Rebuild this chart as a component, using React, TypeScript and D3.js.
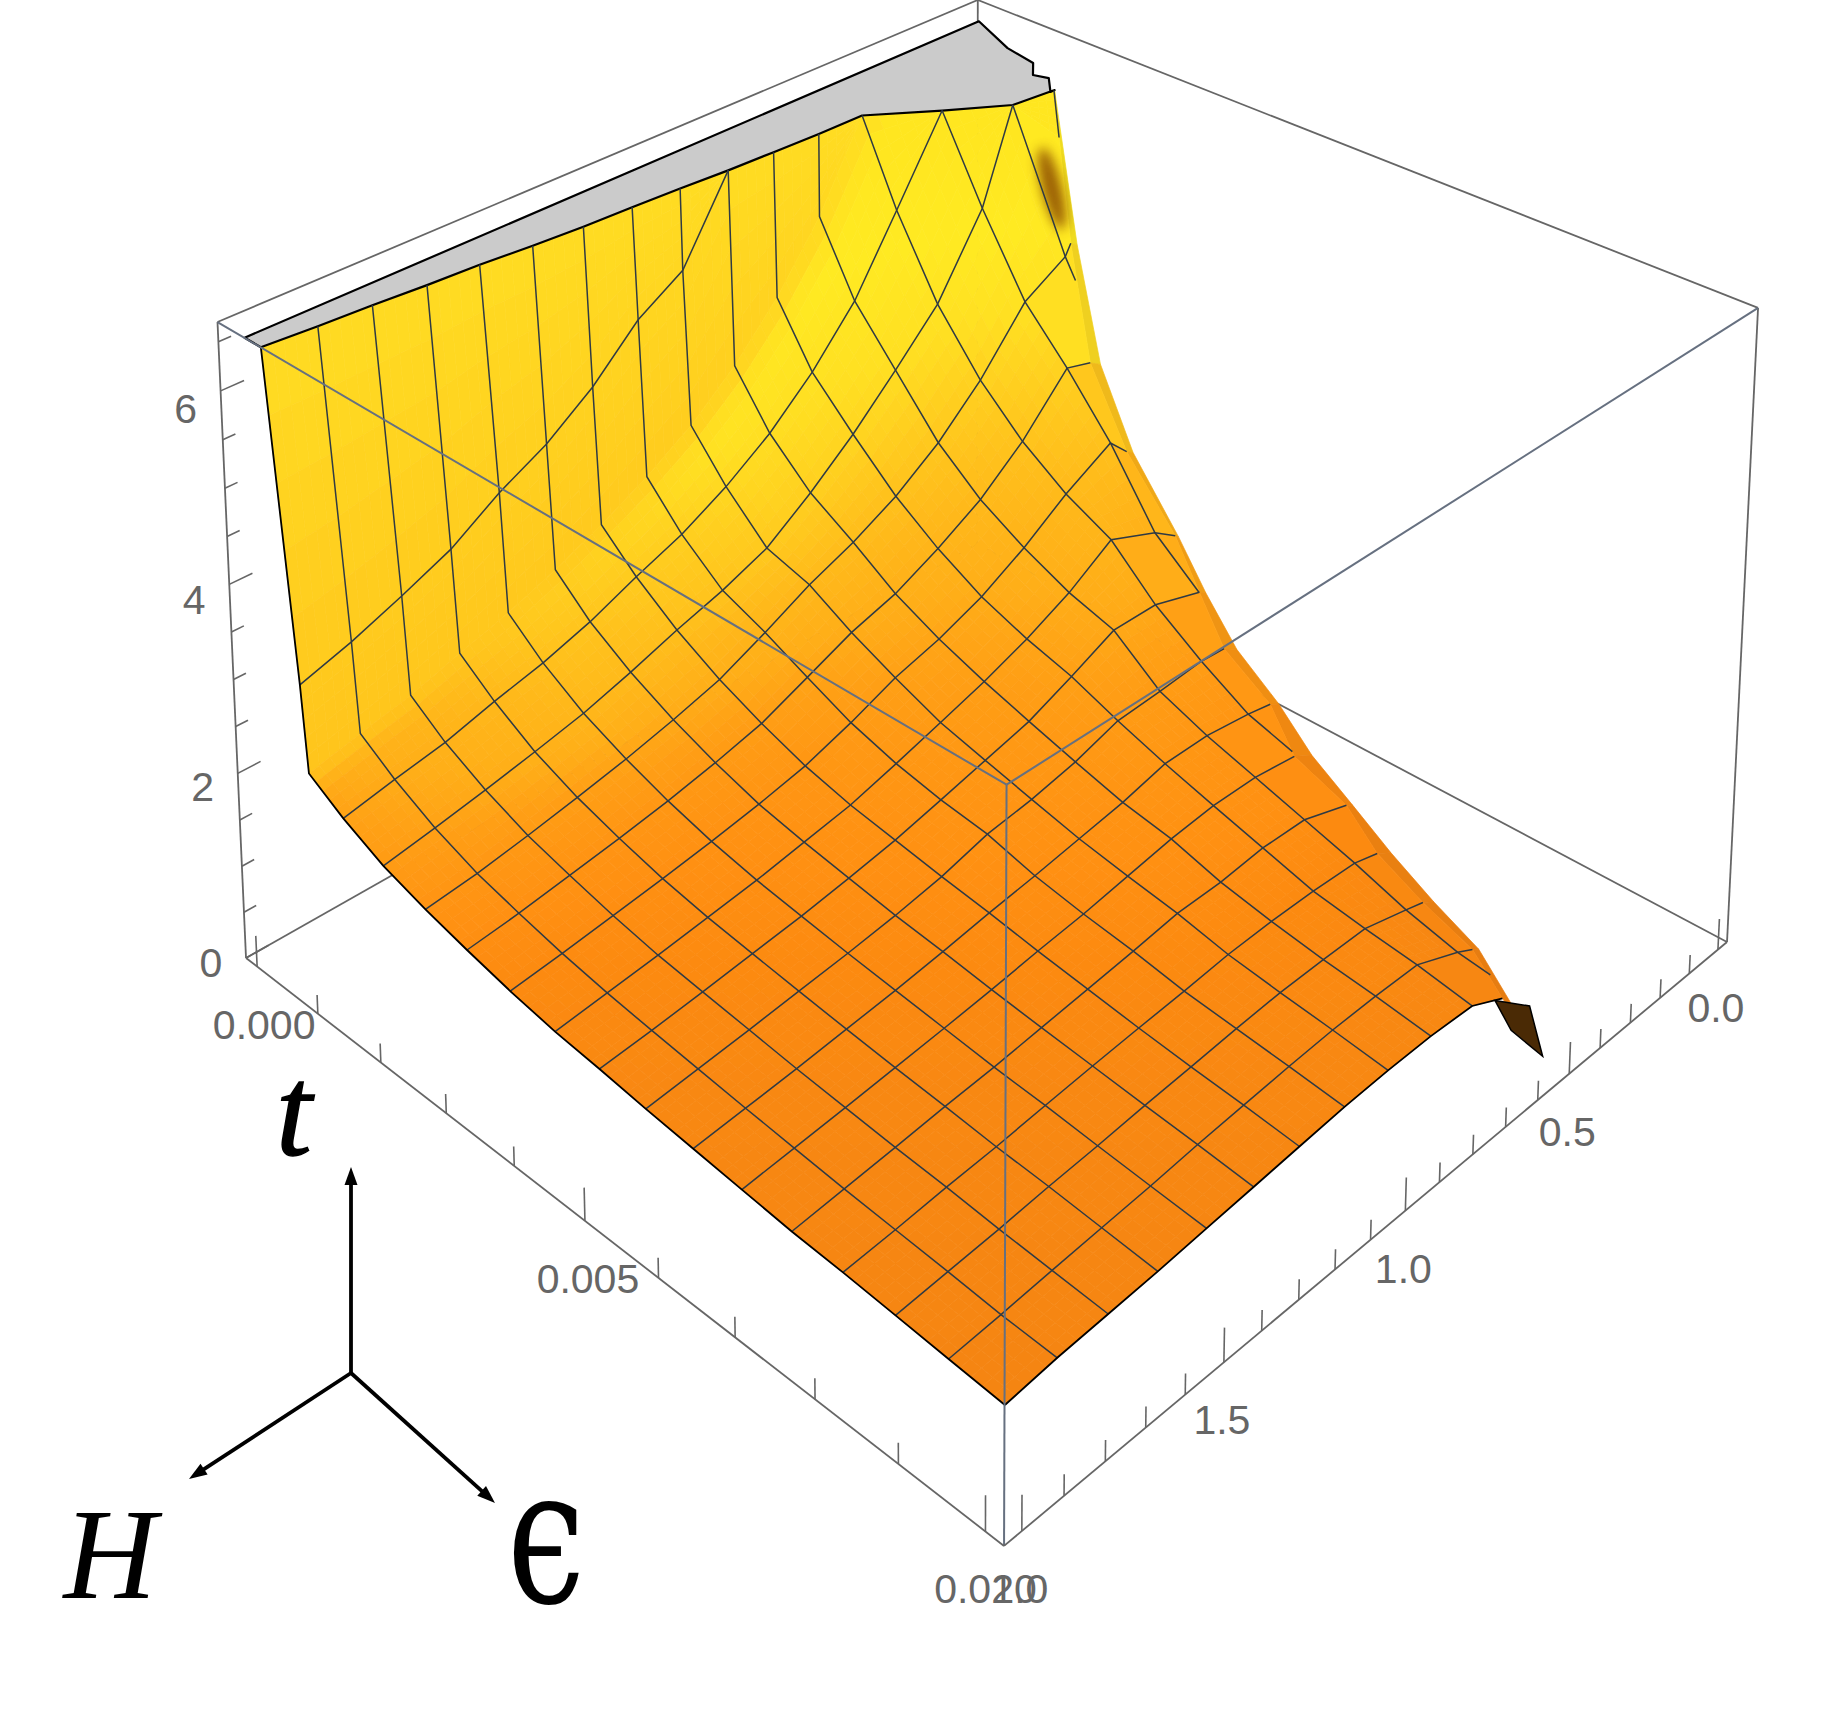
import React from 'react';
import * as d3 from 'd3';

// surface sample lines: H of each "/" column, epsilon of each "\" row
const hColumns = [0.00092, 0.00101, 0.00154, 0.00215, 0.00278, 0.00339, 0.00401, 0.00464, 0.00525, 0.00587, 0.00649, 0.00711, 0.00773, 0.00835, 0.00897, 0.00958, 0.01021];
const epsRows = [2.041, 1.919, 1.797, 1.675, 1.552, 1.43, 1.308, 1.185, 1.063, 0.94, 0.818, 0.694, 0.569, 0.434, 0.31, 0.196];
// column 1 has no mesh line, it is the kink of the coarse sampling
const kinkColumn = 1;

const tValues: (number | null)[][] = [
  [3.43, 3.6, 3.81, 4.04, 4.38, 4.65, 5.02, 5.51, 5.82, null, null, null, null, null, null, null],
  [2.55, 2.68, 2.8, 2.97, 3.13, 3.33, 3.56, 3.83, 4.15, 4.57, 5.1, 5.78, null, null, null, null],
  [2.33, 2.44, 2.54, 2.69, 2.82, 2.99, 3.21, 3.41, 3.68, 4.02, 4.46, 5.02, 5.81, null, null, null],
  [2.13, 2.22, 2.32, 2.43, 2.55, 2.71, 2.89, 3.05, 3.25, 3.6, 4.0, 4.47, 4.97, 5.8, null, 6.19],
  [1.99, 2.05, 2.14, 2.24, 2.35, 2.48, 2.63, 2.86, 3.11, 3.31, 3.56, 3.9, 4.35, 4.97, 5.25],
  [1.88, 1.94, 2.02, 2.1, 2.19, 2.3, 2.43, 2.64, 2.85, 3.0, 3.23, 3.51, 3.9, 4.45],
  [1.78, 1.84, 1.91, 1.98, 2.06, 2.15, 2.26, 2.43, 2.63, 2.77, 2.96, 3.23, 3.56, 3.85],
  [1.7, 1.76, 1.82, 1.89, 1.96, 2.05, 2.14, 2.28, 2.43, 2.585, 2.77, 3.0, 3.31, 3.1],
  [1.65, 1.7, 1.76, 1.825, 1.89, 1.97, 2.06, 2.18, 2.305, 2.43, 2.63, 2.85, 2.85],
  [1.59, 1.645, 1.7, 1.76, 1.82, 1.89, 1.98, 2.114, 2.18, 2.28, 2.43, 2.46, 2.5],
  [1.54, 1.59, 1.64, 1.7, 1.76, 1.83, 1.91, 1.98, 2.06, 2.14, 2.255, 2.26, 2.2],
  [1.49, 1.54, 1.59, 1.645, 1.7, 1.76, 1.83, 1.89, 1.97, 2.05, 2.1, 2.1],
  [1.44, 1.49, 1.54, 1.595, 1.64, 1.7, 1.76, 1.82, 1.89, 1.9, 1.95, 1.94],
  [1.41, 1.45, 1.5, 1.54, 1.595, 1.645, 1.69, 1.73, 1.78, 1.8, 1.8, 1.78],
  [1.37, 1.41, 1.45, 1.5, 1.54, 1.59, 1.63, 1.675, 1.71, 1.72, 1.72, 1.595],
  [1.33, 1.365, 1.41, 1.45, 1.49, 1.54, 1.58, 1.62, 1.65, 1.66, 1.655, 1.46],
  [1.29, 1.34, 1.37, 1.4, 1.44, 1.48, 1.52, 1.56, 1.58, 1.585, 1.56],
];

// ridge along the far side, one entry per column (columns 0-3 run into the plateau instead)
const ridgeEps = [NaN, NaN, NaN, NaN, 0.293, 0.362, 0.383, 0.37, 0.433, 0.499, 0.501, 0.575, 0.565, 0.625, 0.642, 0.648, 0.725];
const ridgeT = [NaN, NaN, NaN, NaN, 5.37, 4.37, 3.65, 2.93, 2.69, 2.48, 2.15, 2.04, 1.78, 1.71, 1.54, 1.37, 1.39];
// the outer rim just behind the ridge
const rimEps = [NaN, NaN, NaN, NaN, 0.273, 0.33, 0.363, 0.36, 0.413, 0.459, 0.474, 0.52, 0.545, 0.582, 0.608, 0.628, NaN];
const rimT = [NaN, NaN, NaN, NaN, 5.32, 4.29, 3.6, 2.9, 2.64, 2.38, 2.09, 1.92, 1.73, 1.61, 1.46, 1.32, NaN];

// where each row leaves the clipped plateau
const plateauH = [0.00051, 0.00057, 0.00061, 0.00067, 0.00071, 0.00078, 0.00083, 0.00086, 0.0009, 0.00095, 0.00098, 0.00101, 0.00102, 0.00155, 0.002, 0.00207];
// jagged far edge of the plateau
const jagH = [0.00207, 0.00207, 0.00182, 0.00164, 0.00143, 0.00096, 0.00023, 0.00025];
const jagEps = [0.194, 0.207, 0.159, 0.171, 0.126, 0.109, 0.05, 2.041];

// underside showing at the tip, on the last column
const wedgeEps = [0.748, 0.638, 0.59, 0.694];
const wedgeT = [1.43, 1.08, 0.43, 0.98];

const hTicks = [0, 0.001, 0.002, 0.003, 0.004, 0.005, 0.006, 0.007, 0.008, 0.009, 0.01];
const hLabels = [0, 0.005, 0.01];
const epsTicks = [0, 0.1, 0.2, 0.3, 0.4, 0.5, 0.6, 0.7, 0.8, 0.9, 1, 1.1, 1.2, 1.3, 1.4, 1.5, 1.6, 1.7, 1.8, 1.9, 2];
const epsLabels = [0, 0.5, 1, 1.5, 2];
const tTicks = [0, 0.5, 1, 1.5, 2, 2.5, 3, 3.5, 4, 4.5, 5, 5.5, 6, 6.5];
const tLabels = [0, 2, 4, 6];
const tLabelDrop = [19, 28, 30, 32];

const T_MAX = 6.7;
const hScale = d3.scaleLinear().domain([0, 0.01]).range([0.018, 0.98]);
const epsScale = d3.scaleLinear().domain([0, 2]).range([0.0155, 0.98]);
const tScale = d3.scaleLinear().domain([0, T_MAX]).range([0, 1]);

// perspective of the box, fitted to its eight corners
function project(u: number, v: number, w: number): [number, number] {
  const d = 1 - 0.1578 * u - 0.16105 * v - 0.0325 * w;
  return [
    (977 + 477.5 * u - 770.6 * v - 31 * w) / d,
    (544 + 249.3 * u + 259.7 * v - 544 * w) / d,
  ];
}
const at = (h: number, e: number, t: number) => project(hScale(h), epsScale(e), tScale(t));

const line = d3.line();
const path = (pts: [number, number][], close = false) => line(pts) + (close ? 'Z' : '');

const baseColor = d3.scaleLinear<string>()
  .domain([1.3, 1.6, 1.8, 2.0, 2.6, 3.0, 3.5, 4.35, 5.0, 5.8, 6.7])
  .range(['#f58512', '#f88812', '#fc8a10', '#ff9012', '#ff9f15', '#ffae18', '#ffb81a', '#ffce1f', '#ffe022', '#ffea22', '#ffe620'])
  .clamp(true);
const wallColor = d3.scaleLinear<string>().domain([2.5, 6.7]).range(['#ffc41c', '#ffdc22']).clamp(true);
const wallMix = d3.scaleLinear().domain([0.115, 0.135]).range([1, 0]).clamp(true);
const yellowBoost = d3.scaleLinear().domain([0.115, 0.17, 0.225, 0.285, 0.344, 0.4]).range([1.2, 1.0, 0.9, 0.4, 0.1, 0]).clamp(true);
const boostByEps = d3.scaleLinear().domain([0.3, 0.5, 0.75, 1]).range([0.3, 1, 1, 0.35]).clamp(true);

function shade(u: number, v: number, t: number) {
  const c = baseColor(t + yellowBoost(u) * boostByEps(v));
  return d3.interpolateRgb(c, wallColor(t))(wallMix(u));
}

type Node = { h: number; e: number; t: number };

// column -1 is the wall that climbs from the first sampled column to the plateau
const columnLength = (c: number) => (c < 0 ? epsRows.length : tValues[c].length);
function nodeAt(c: number, r: number): Node {
  const t = c < 0 ? null : tValues[c][r];
  if (t === null) return { h: plateauH[r], e: epsRows[r], t: T_MAX };
  return { h: hColumns[c], e: epsRows[r], t };
}
function ridgeNode(c: number): Node | null {
  if (c < 0 || Number.isNaN(ridgeEps[c])) return null;
  return { h: hColumns[c], e: ridgeEps[c], t: ridgeT[c] };
}
function rimNode(c: number): Node | null {
  const last = hColumns.length - 1;
  if (c === last) return { h: hColumns[c], e: wedgeEps[2], t: wedgeT[2] };
  if (c === 3) return { h: jagH[0], e: jagEps[0], t: T_MAX };
  if (c < 0 || Number.isNaN(rimEps[c])) return null;
  return { h: hColumns[c], e: rimEps[c], t: rimT[c] };
}
const screen = (n: Node) => at(n.h, n.e, n.t);

function buildCells() {
  const cells: { d: string; fill: string; depth: number }[] = [];
  const N = 5;
  for (let c = -1; c < hColumns.length - 1; c++) {
    const shared = Math.min(columnLength(c), columnLength(c + 1));
    for (let r = 0; r < shared - 1; r++) {
      const a = nodeAt(c, r), b = nodeAt(c + 1, r), p = nodeAt(c, r + 1), q = nodeAt(c + 1, r + 1);
      const mix = (i: number, j: number): Node => {
        const s = i / N, f = j / N;
        const top = (k: 'h' | 'e' | 't') => a[k] + (b[k] - a[k]) * s;
        const bot = (k: 'h' | 'e' | 't') => p[k] + (q[k] - p[k]) * s;
        return { h: top('h') + (bot('h') - top('h')) * f, e: top('e') + (bot('e') - top('e')) * f, t: top('t') + (bot('t') - top('t')) * f };
      };
      for (let i = 0; i < N; i++) {
        for (let j = 0; j < N; j++) {
          const n = [mix(i, j), mix(i + 1, j), mix(i + 1, j + 1), mix(i, j + 1)];
          const mid = mix(i + 0.5, j + 0.5);
          const u = hScale(mid.h), v = epsScale(mid.e);
          cells.push({ d: path(n.map(screen), true), fill: shade(u, v, mid.t), depth: u + v });
        }
      }
    }
    // what is left of the pair of columns up to the ridge, then the far strip behind it
    const from = shared - 1;
    const left: Node[] = [], right: Node[] = [];
    for (let r = from; r < columnLength(c); r++) left.push(nodeAt(c, r));
    for (let r = from; r < columnLength(c + 1); r++) right.push(nodeAt(c + 1, r));
    const rl = ridgeNode(c), rr = ridgeNode(c + 1);
    if (rl) left.push(rl);
    if (rr) right.push(rr);
    const ring = [...left, ...right.slice().reverse()];
    const mt = d3.mean(ring, n => n.t)!;
    const mu = hScale(d3.mean(ring, n => n.h)!), mv = epsScale(d3.mean(ring, n => n.e)!);
    cells.push({ d: path(ring.map(screen), true), fill: shade(mu, mv, mt), depth: mu + mv });
    const el = rimNode(c), er = rimNode(c + 1);
    if (el && er) {
      const far = [left[left.length - 1], el, er, right[right.length - 1]];
      const col = d3.color(shade(mu, mv, d3.mean(far, n => n.t)!))!.darker(0.18).formatHex();
      cells.push({ d: path(far.map(screen), true), fill: col, depth: -1 });
    }
  }
  return cells.sort((x, y) => x.depth - y.depth);
}

// height on a column at a given epsilon, for closing a row on the ridge
function tOnColumn(c: number, e: number) {
  const len = tValues[c].length;
  for (let r = 0; r < len - 1; r++) {
    if (epsRows[r] >= e && e >= epsRows[r + 1]) {
      const f = (epsRows[r] - e) / (epsRows[r] - epsRows[r + 1]);
      return nodeAt(c, r).t + (nodeAt(c, r + 1).t - nodeAt(c, r).t) * f;
    }
  }
  const rn = ridgeNode(c);
  const lastNode = nodeAt(c, len - 1);
  if (!rn) return lastNode.t;
  const f = (lastNode.e - e) / (lastNode.e - rn.e);
  return lastNode.t + (rn.t - lastNode.t) * f;
}

function columnLine(c: number) {
  const pts: [number, number][] = [];
  for (let r = 0; r < tValues[c].length; r++) {
    pts.push(screen(nodeAt(c, r)));
    if (tValues[c][r] === null) break;
  }
  const rn = ridgeNode(c);
  if (rn) pts.push(screen(rn));
  return pts;
}

function rowLine(r: number) {
  const e = epsRows[r];
  const pts: [number, number][] = [at(plateauH[r], e, T_MAX)];
  for (let c = 0; c < hColumns.length; c++) {
    const v = tValues[c][r];
    if (v === null) continue;
    if (v === undefined) {
      const rn = ridgeNode(c);
      const prev = ridgeNode(c - 1);
      if (rn && prev) {
        const g = Math.min(1, Math.max(0, (e - prev.e) / Math.max(1e-6, rn.e - prev.e)));
        const h = hColumns[c - 1] + (hColumns[c] - hColumns[c - 1]) * g;
        const t0 = tOnColumn(c - 1, e);
        pts.push(at(h, e, t0 + (rn.t - t0) * g));
      }
      break;
    }
    pts.push(at(hColumns[c], e, v));
  }
  return pts;
}

const meshColor = '#2f3a44';
const boxColor = '#666666';
const labelStyle: React.CSSProperties = { fontFamily: '"Liberation Sans", Arial, sans-serif', fontSize: 41, fill: '#666666' };
const mathStyle: React.CSSProperties = { fontFamily: '"Liberation Serif", serif', fontStyle: 'italic', fontSize: 129, fill: '#000' };

function Arrow({ from, to }: { from: [number, number]; to: [number, number] }) {
  const a = Math.atan2(to[1] - from[1], to[0] - from[0]);
  const head: [number, number][] = [
    to,
    [to[0] - 18 * Math.cos(a) + 6.5 * Math.sin(a), to[1] - 18 * Math.sin(a) - 6.5 * Math.cos(a)],
    [to[0] - 18 * Math.cos(a) - 6.5 * Math.sin(a), to[1] - 18 * Math.sin(a) + 6.5 * Math.cos(a)],
  ];
  return (
    <g>
      <line x1={from[0]} y1={from[1]} x2={to[0] - 12 * Math.cos(a)} y2={to[1] - 12 * Math.sin(a)} stroke="#000" strokeWidth={3.8} />
      <path d={path(head, true)} fill="#000" />
    </g>
  );
}

export default function App() {
  const cells = React.useMemo(buildCells, []);

  const corner = (u: number, v: number, w: number) => project(u, v, w);
  const Lb = corner(0, 1, 0), Rb = corner(1, 0, 0), Bb = corner(0, 0, 0), Fb = corner(1, 1, 0);
  const Lt = corner(0, 1, 1), Rt = corner(1, 0, 1), Bt = corner(0, 0, 1), Ft = corner(1, 1, 1);

  const plateau: [number, number][] = [
    ...plateauH.map((h, r) => at(h, epsRows[r], T_MAX)),
    ...jagH.map((h, i) => at(h, jagEps[i], T_MAX)),
  ];

  const lastCol = hColumns.length - 1;
  const leftEdge: [number, number][] = [at(plateauH[0], epsRows[0], T_MAX), ...tValues.map((col, c) => at(hColumns[c], epsRows[0], col[0] as number))];
  const rightEdge = [...columnLine(lastCol)];

  const rim: [number, number][] = [];
  for (let c = 3; c <= lastCol; c++) {
    const n = rimNode(c);
    if (n) rim.push(screen(n));
  }
  const clip: [number, number][] = [...rim, [0, 1100], [0, 0], [rim[0][0], 0]];
  const smear = at(0.00258, 0.31, 5.95);

  const wedge = wedgeEps.map((e, i) => at(hColumns[lastCol], e, wedgeT[i]));

  const seg = (a: [number, number], b: [number, number], w = 1.8, c = boxColor, key?: string) => (
    <line key={key} x1={a[0]} y1={a[1]} x2={b[0]} y2={b[1]} stroke={c} strokeWidth={w} />
  );

  return (
    <svg width={1842} height={1723} style={{ position: 'absolute', left: 0, top: 0, background: '#fff' }}>
      <defs>
        <filter id="soft" x="-150%" y="-100%" width="400%" height="300%"><feGaussianBlur stdDeviation="6" /></filter>
        <clipPath id="insideRim"><path d={path(clip, true)} /></clipPath>
      </defs>

      {/* back of the box */}
      {seg(Lt, Bt)}{seg(Bt, Rt)}{seg(Bt, Bb)}{seg(Lb, Bb)}{seg(Rb, Bb)}
      {seg(Lt, Lb)}{seg(Rt, Rb)}

      {/* ticks */}
      {tTicks.map(t => {
        const major = tLabels.includes(t);
        const a = project(0, 1, tScale(t));
        const b = project(0, 1 - (major ? 0.026 : 0.014), tScale(t));
        return <g key={t}>{seg(a, b, 1.6)}</g>;
      })}
      {hTicks.map(h => {
        const major = hLabels.includes(h);
        return <g key={h}>{seg(project(hScale(h), 1, 0), project(hScale(h), 1, major ? 0.05 : 0.03), 1.6)}</g>;
      })}
      {epsTicks.map(e => {
        const major = epsLabels.includes(e);
        return <g key={e}>{seg(project(1, epsScale(e), 0), project(1, epsScale(e), major ? 0.05 : 0.03), 1.6)}</g>;
      })}

      {/* surface */}
      {cells.map((c, i) => <path key={i} d={c.d} fill={c.fill} stroke={c.fill} strokeWidth={0.7} />)}
      <g clipPath="url(#insideRim)">
        <ellipse cx={smear[0]} cy={smear[1]} rx={10} ry={42} fill="#8a4a04" opacity={0.85} filter="url(#soft)" transform={`rotate(-14 ${smear[0]} ${smear[1]})`} />
      </g>

      {/* clipped top */}
      <path d={path(plateau, true)} fill="#cbcbcb" stroke="#000" strokeWidth={2.2} strokeLinejoin="round" />

      {/* mesh */}
      {hColumns.map((_, c) => (c === kinkColumn || c === lastCol ? null : (
        <path key={c} d={path(columnLine(c))} fill="none" stroke={meshColor} strokeWidth={1.5} />
      )))}
      {epsRows.map((_, r) => (r === 0 ? null : (
        <path key={r} d={path(rowLine(r))} fill="none" stroke={meshColor} strokeWidth={1.5} />
      )))}

      <path d={path(wedge, true)} fill="#4a2a05" stroke="#000" strokeWidth={1.5} />
      <path d={path(leftEdge)} fill="none" stroke="#000" strokeWidth={1.8} />
      <path d={path(rightEdge)} fill="none" stroke="#000" strokeWidth={1.8} />

      {/* front of the box */}
      {seg(Lt, Ft, 2, '#667080')}{seg(Rt, Ft, 2, '#667080')}{seg(Ft, Fb, 2, '#667080')}
      {seg(Lb, Fb)}{seg(Rb, Fb)}

      {/* tick labels */}
      {tLabels.map((t, i) => {
        const p = project(0, 1, tScale(t));
        return <text key={t} x={p[0] - 35} y={p[1] + tLabelDrop[i]} textAnchor="middle" style={labelStyle}>{t}</text>;
      })}
      {hLabels.map(h => {
        const p = project(hScale(h), 1, 0);
        return <text key={h} x={p[0] + (h === 0 ? 7 : h === 0.005 ? 3 : 0)} y={p[1] + 72} textAnchor="middle" style={labelStyle}>{h.toFixed(3)}</text>;
      })}
      {epsLabels.map(e => {
        const p = project(1, epsScale(e), 0);
        return <text key={e} x={p[0] - 2} y={p[1] + 72} textAnchor="middle" style={labelStyle}>{e.toFixed(1)}</text>;
      })}

      {/* direction key */}
      <Arrow from={[351, 1373]} to={[351, 1167]} />
      <Arrow from={[351, 1373]} to={[189, 1479]} />
      <Arrow from={[351, 1373]} to={[495, 1503]} />
      <text x={294} y={1155} textAnchor="middle" style={{ ...mathStyle, stroke: '#000', strokeWidth: 1.5 }}>t</text>
      <text x={110} y={1598} textAnchor="middle" style={mathStyle}>H</text>
      <text x={507} y={1602} textLength={78} lengthAdjust="spacingAndGlyphs" style={{ ...mathStyle, fontFamily: '"DejaVu Serif", serif', fontStyle: 'normal', fontSize: 190 }}>ϵ</text>
    </svg>
  );
}
